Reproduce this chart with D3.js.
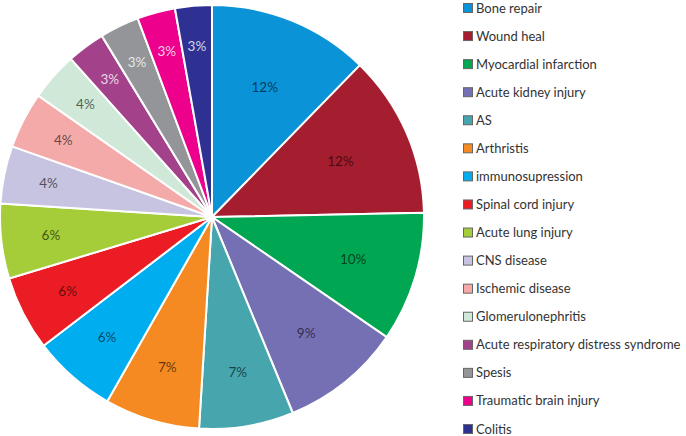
<!DOCTYPE html>
<html>
<head>
<meta charset="utf-8">
<script src="https://cdn.jsdelivr.net/npm/d3@7"></script>
<style>
  body { margin: 0; background: #fff; }
  svg { display: block; }
</style>
</head>
<body>
<svg id="chart" width="686" height="436"></svg>
<script>
const categories = ["Bone repair", "Wound heal", "Myocardial infarction", "Acute kidney injury", "AS", "Arthristis", "immunosupression", "Spinal cord injury", "Acute lung injury", "CNS disease", "Ischemic disease", "Glomerulonephritis", "Acute respiratory distress syndrome", "Spesis", "Traumatic brain injury", "Colitis"];
const values = [12.3, 12.4, 9.9, 9.2, 7.2, 7.25, 6.4, 5.7, 5.7, 4.4, 4.3, 3.7, 2.9, 3.0, 2.9, 2.8];
const colors = ["#0b93d8", "#a51e2f", "#00a651", "#7570b3", "#47a5ae", "#f58a22", "#00aeef", "#ec1c24", "#a4cd39", "#c6c4e1", "#f4aaa9", "#cfe8d7", "#a3428b", "#939598", "#ec008c", "#2e3191"];
const darkLabel = [false, false, false, false, false, false, false, false, false, false, false, false, true, true, true, true];

const svg = d3.select("#chart");
const cx = 212, cy = 217, R = 212;
const g = svg.append("g").attr("transform", `translate(${cx},${cy})`);

const pie = d3.pie().sort(null).value(d => d);
const arcs = pie(values);
const arc = d3.arc().innerRadius(0).outerRadius(R);

g.selectAll("path").data(arcs).enter().append("path")
  .attr("d", arc)
  .attr("fill", (d, i) => colors[i])
  .attr("stroke", "#fff")
  .attr("stroke-width", 2)
  .attr("stroke-linejoin", "round");

const total = d3.sum(values);
const labelR = d3.scaleLinear().domain([3, 12]).range([0.81 * R, 0.66 * R]).clamp(true);
g.selectAll("text.lbl").data(arcs).enter().append("text")
  .attr("class", "lbl")
  .attr("transform", d => {
    const a = (d.startAngle + d.endAngle) / 2;
    const r = labelR(d.value / total * 100);
    return `translate(${Math.sin(a) * r},${-Math.cos(a) * r})`;
  })
  .attr("text-anchor", "middle")
  .attr("dy", "0.35em")
  .attr("font-family", "Lato, 'Open Sans', sans-serif")
  .attr("font-size", 13.5)
  .attr("fill", (d, i) => darkLabel[i] ? "#fff" : "#000")
  .attr("fill-opacity", (d, i) => darkLabel[i] ? 0.8 : 0.62)
  .text(d => Math.round(d.value / total * 100) + "%");

const legend = svg.append("g");
const ly = d3.scalePoint().domain(categories).range([3, 424]);
const items = legend.selectAll("g").data(categories).enter().append("g")
  .attr("transform", d => `translate(463,${ly(d)})`);
items.append("rect")
  .attr("x", 0.5).attr("y", 0.5)
  .attr("width", 9).attr("height", 9)
  .attr("fill", (d, i) => colors[i])
  .attr("stroke", "#666")
  .attr("stroke-width", 1);
items.append("text")
  .attr("x", 13).attr("y", 5)
  .attr("dy", "0.35em")
  .attr("font-family", "Lato, 'Open Sans', sans-serif")
  .attr("font-size", 13)
  .attr("fill", "#333")
  .text(d => d);
</script>
</body>
</html>
